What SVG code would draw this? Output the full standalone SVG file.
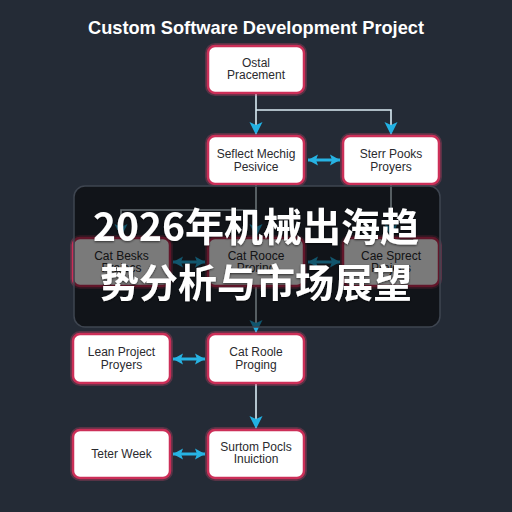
<svg xmlns="http://www.w3.org/2000/svg" width="512" height="512" viewBox="0 0 512 512">
  <defs>
    <style>
      .title { font-family: "Liberation Sans", Arial, sans-serif; font-weight: bold; font-size: 19px; fill: #ffffff; }
      .box { fill: #ffffff; stroke: #cc2f58; stroke-width: 2.5; }
      .glow { fill: none; stroke: #e0476f; stroke-width: 6; stroke-opacity: 0.28; }
      .lbl { font-family: "Liberation Sans", Arial, sans-serif; font-size: 12px; fill: #2a2a2e; text-anchor: middle; }
      .wire { fill: none; stroke: #d9ecf4; stroke-width: 1.6; }
      .dbl { fill: none; stroke: #27b3e3; stroke-width: 3; }
      .cjk { font-family: "Noto Sans CJK SC", "Noto Sans", sans-serif; font-weight: bold; font-size: 39px; fill: #ffffff; text-anchor: middle; }
    </style>
    <marker id="down" markerUnits="userSpaceOnUse" markerWidth="14" markerHeight="14" viewBox="0 0 14 14" refX="12" refY="7" orient="auto">
      <path d="M0,0.5 L13,7 L0,13.5 L3,7 z" fill="#22b1e3"/>
    </marker>
    <marker id="dh" markerUnits="userSpaceOnUse" markerWidth="12" markerHeight="12" viewBox="0 0 12 12" refX="10" refY="6" orient="auto-start-reverse">
      <path d="M0,0.5 L10,6 L0,11.5 L2,6 z" fill="#27b3e3"/>
    </marker>
    <filter id="ts" x="-10%" y="-30%" width="120%" height="160%">
      <feDropShadow dx="0" dy="1" stdDeviation="1.2" flood-color="#000000" flood-opacity="0.6"/>
    </filter>
  </defs>

  <rect x="0" y="0" width="512" height="512" fill="#242b36"/>

  <text class="title" x="256" y="34" text-anchor="middle" textLength="336" lengthAdjust="spacingAndGlyphs">Custom Software Development Project</text>

  <g id="connectors">
    <path class="wire" d="M256,93 V134" marker-end="url(#down)"/>
    <path class="wire" d="M256,110 H391 V134" marker-end="url(#down)"/>
    <path class="dbl" d="M308,160 H340" marker-start="url(#dh)" marker-end="url(#dh)"/>
    <path class="wire" d="M256,184 V236" marker-end="url(#down)"/>
    <path class="wire" d="M256,210 H121 V236" marker-end="url(#down)"/>
    <path class="wire" d="M391,184 V236" marker-end="url(#down)"/>
    <path class="dbl" d="M173,262 H205" marker-start="url(#dh)" marker-end="url(#dh)"/>
    <path class="dbl" d="M308,262 H340" marker-start="url(#dh)" marker-end="url(#dh)"/>
    <path class="wire" d="M256,286 V332" marker-end="url(#down)"/>
    <path class="dbl" d="M173,359 H205" marker-start="url(#dh)" marker-end="url(#dh)"/>
    <path class="wire" d="M256,383 V428" marker-end="url(#down)"/>
    <path class="dbl" d="M173,454 H205" marker-start="url(#dh)" marker-end="url(#dh)"/>
  </g>

  <g id="n-ostal">
    <rect class="glow" x="208" y="46" width="96" height="47" rx="7"/>
    <rect class="box" x="208" y="46" width="96" height="47" rx="7"/>
    <text class="lbl" x="256" y="67">Ostal</text>
    <text class="lbl" x="256" y="79">Pracement</text>
  </g>
  <g id="n-seflect">
    <rect class="glow" x="208" y="136" width="96" height="48" rx="7"/>
    <rect class="box" x="208" y="136" width="96" height="48" rx="7"/>
    <text class="lbl" x="256" y="158">Seflect Mechig</text>
    <text class="lbl" x="256" y="170.5">Pesivice</text>
  </g>
  <g id="n-sterr">
    <rect class="glow" x="343" y="136" width="96" height="48" rx="7"/>
    <rect class="box" x="343" y="136" width="96" height="48" rx="7"/>
    <text class="lbl" x="391" y="158">Sterr Pooks</text>
    <text class="lbl" x="391" y="170.5">Proyers</text>
  </g>
  <g id="n-catbesks">
    <rect class="glow" x="73" y="238" width="97" height="48" rx="7"/>
    <rect class="box" x="73" y="238" width="97" height="48" rx="7"/>
    <text class="lbl" x="121.5" y="259.5">Cat Besks</text>
    <text class="lbl" x="121.5" y="272">Prajecs</text>
  </g>
  <g id="n-catrooce">
    <rect class="glow" x="208" y="238" width="96" height="48" rx="7"/>
    <rect class="box" x="208" y="238" width="96" height="48" rx="7"/>
    <text class="lbl" x="256" y="259.5">Cat Rooce</text>
    <text class="lbl" x="256" y="272">Proring</text>
  </g>
  <g id="n-caesprect">
    <rect class="glow" x="343" y="238" width="96" height="48" rx="7"/>
    <rect class="box" x="343" y="238" width="96" height="48" rx="7"/>
    <text class="lbl" x="391" y="259.5">Cae Sprect</text>
    <text class="lbl" x="391" y="272">Prajecs</text>
  </g>
  <g id="n-lean">
    <rect class="glow" x="73" y="334" width="97" height="49" rx="7"/>
    <rect class="box" x="73" y="334" width="97" height="49" rx="7"/>
    <text class="lbl" x="121.5" y="356">Lean Project</text>
    <text class="lbl" x="121.5" y="368.5">Proyers</text>
  </g>
  <g id="n-catroole">
    <rect class="glow" x="208" y="334" width="96" height="49" rx="7"/>
    <rect class="box" x="208" y="334" width="96" height="49" rx="7"/>
    <text class="lbl" x="256" y="356">Cat Roole</text>
    <text class="lbl" x="256" y="368.5">Proging</text>
  </g>
  <g id="n-teter">
    <rect class="glow" x="73" y="430" width="97" height="48" rx="7"/>
    <rect class="box" x="73" y="430" width="97" height="48" rx="7"/>
    <text class="lbl" x="121.5" y="457.5">Teter Week</text>
  </g>
  <g id="n-surtom">
    <rect class="glow" x="208" y="430" width="96" height="48" rx="7"/>
    <rect class="box" x="208" y="430" width="96" height="48" rx="7"/>
    <text class="lbl" x="256" y="451">Surtom Pocls</text>
    <text class="lbl" x="256" y="463">Inuiction</text>
  </g>

  <g id="overlay">
    <rect x="74" y="186" width="366" height="141" rx="11" fill="#000000" fill-opacity="0.52" stroke="#3e4550" stroke-width="1.5"/>
    <text class="cjk" x="256" y="241" filter="url(#ts)">2026年机械出海趋</text>
    <text class="cjk" x="256" y="297" filter="url(#ts)">势分析与市场展望</text>
  </g>
</svg>
